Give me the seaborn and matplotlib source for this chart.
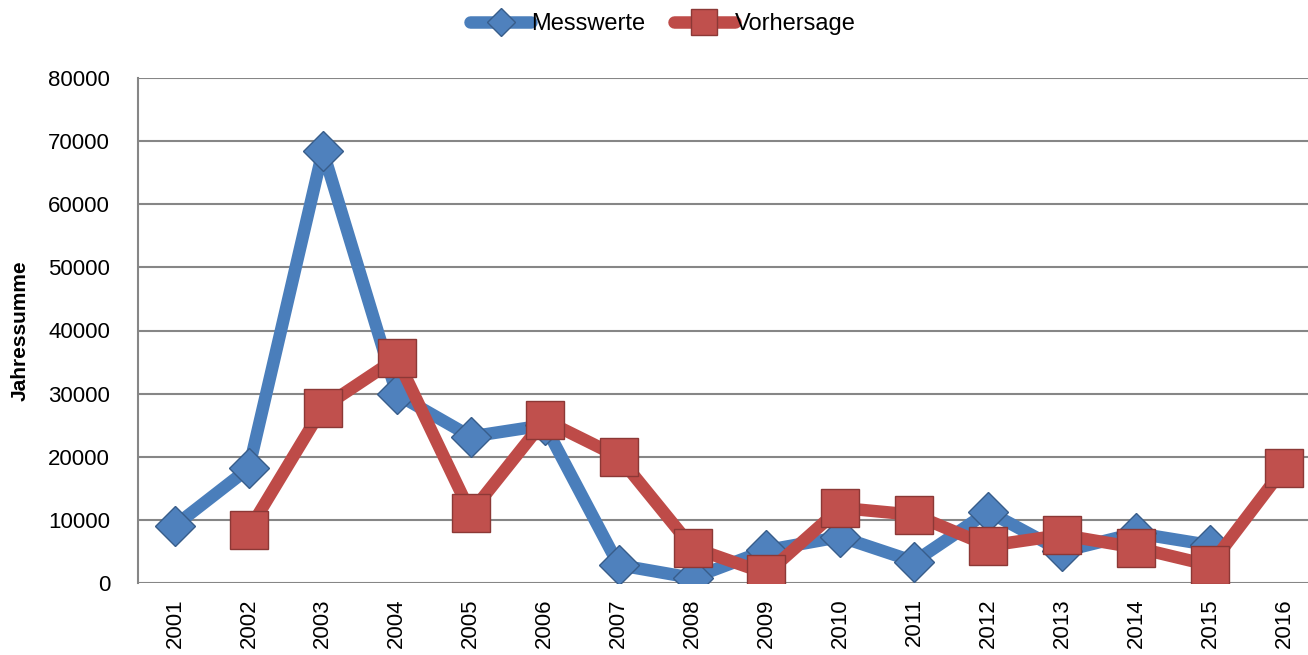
import numpy as np
import pandas as pd
import matplotlib
matplotlib.use("Agg")
import matplotlib.pyplot as plt
import seaborn as sns

# values
years = [2001, 2002, 2003, 2004, 2005, 2006, 2007, 2008,
         2009, 2010, 2011, 2012, 2013, 2014, 2015, 2016]
messwerte = [9100, 18200, 68500, 29900, 23200, 25000, 2850, 800,
             5200, 7300, 3400, 11300, 5000, 7900, 6000, np.nan]
vorhersage = [np.nan, 8400, 27800, 35600, 11100, 25800, 20000, 5600,
              1500, 11900, 10800, 5900, 7600, 5600, 2800, 18200]
y_ticks = [0, 10000, 20000, 30000, 40000, 50000, 60000, 70000, 80000]

df = pd.DataFrame({"Jahr": years, "Messwerte": messwerte, "Vorhersage": vorhersage})

sns.set_style("white")
plt.rcParams["font.family"] = ["Liberation Sans", "DejaVu Sans"]
plt.rcParams["text.color"] = "black"
plt.rcParams["axes.labelcolor"] = "black"
plt.rcParams["xtick.color"] = "black"
plt.rcParams["ytick.color"] = "black"

fig = plt.figure(figsize=(13.08, 6.55), dpi=100)
ax = fig.add_axes([138 / 1308, 1 - 583 / 655, (1321 - 138) / 1308, (583 - 78) / 655])

blue_line, blue_fill, blue_edge = "#4A7EBB", "#4F81BD", "#385D8A"
red_line, red_fill, red_edge = "#BE4B48", "#C0504D", "#8C3836"

sns.lineplot(data=df.dropna(subset=["Messwerte"]), x="Jahr", y="Messwerte", ax=ax,
             color=blue_line, linewidth=9, marker="D", markersize=20,
             markerfacecolor=blue_fill, markeredgecolor=blue_edge, markeredgewidth=1,
             label="Messwerte", zorder=3)
sns.lineplot(data=df.dropna(subset=["Vorhersage"]), x="Jahr", y="Vorhersage", ax=ax,
             color=red_line, linewidth=9, marker="s", markersize=27,
             markerfacecolor=red_fill, markeredgecolor=red_edge, markeredgewidth=1,
             label="Vorhersage", zorder=4)

ax.set_xlim(years[0] - 0.5, years[-1] + 0.5)
ax.set_ylim(0, 80000)
ax.set_yticks(y_ticks)
ax.set_yticklabels([str(v) for v in y_ticks])
ax.set_xticks(years)
ax.set_xticklabels([str(y) for y in years], rotation=90)
ax.tick_params(axis="y", length=0, pad=20, labelsize=16)
ax.tick_params(axis="x", length=0, pad=11, labelsize=16)

ax.grid(axis="y", color="#868686", linewidth=1.5)
ax.set_axisbelow(True)
for side in ["top", "right", "bottom"]:
    ax.spines[side].set_visible(False)
ax.spines["left"].set_color("#868686")
ax.spines["left"].set_linewidth(1.5)

ax.set_xlabel("")
ax.set_ylabel("Jahressumme", fontsize=15, fontweight="bold")
ax.yaxis.set_label_coords(-108 / 1183, 0.5)

ax.legend(loc="center", bbox_to_anchor=(663 / 1308, 1 - 24 / 655),
          bbox_transform=fig.transFigure, ncol=2, frameon=False,
          fontsize=17, handlelength=2.6, handletextpad=0.0, columnspacing=1.2,
          markerscale=0.7)

fig.savefig("out.png", dpi=100)
